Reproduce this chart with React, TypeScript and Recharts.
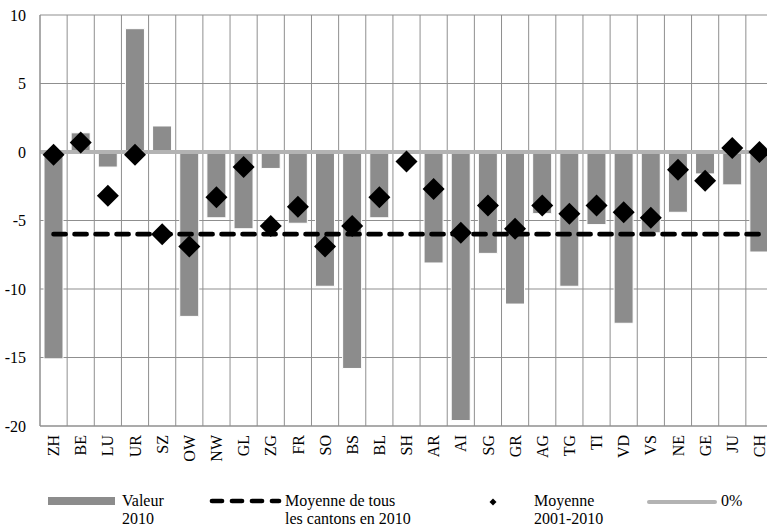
import { Bar, CartesianGrid, ComposedChart, Line, ReferenceLine, XAxis, YAxis } from 'recharts'

const CANTONS = [
  'ZH', 'BE', 'LU', 'UR', 'SZ', 'OW', 'NW', 'GL', 'ZG', 'FR', 'SO', 'BS', 'BL', 'SH',
  'AR', 'AI', 'SG', 'GR', 'AG', 'TG', 'TI', 'VD', 'VS', 'NE', 'GE', 'JU', 'CH',
]
const VALEUR_2010 = [
  -15.1, 1.4, -1.1, 9.0, 1.9, -12.0, -4.8, -5.6, -1.2, -5.2, -9.8, -15.8, -4.8, 0,
  -8.1, -19.6, -7.4, -11.1, -4.5, -9.8, -5.3, -12.5, -5.9, -4.4, -1.6, -2.4, -7.3,
]
const MOYENNE_2001_2010 = [
  -0.2, 0.7, -3.2, -0.2, -6.0, -6.9, -3.3, -1.1, -5.4, -4.0, -6.9, -5.4, -3.3, -0.7,
  -2.7, -5.9, -3.9, -5.6, -3.9, -4.5, -3.9, -4.4, -4.8, -1.3, -2.1, 0.3, 0.0,
]
const MOYENNE_CANTONS_2010 = -6.0
const ZERO_PCT = 0
const Y_TICKS = [-20, -15, -10, -5, 0, 5, 10]

const data = CANTONS.map((canton, i) => ({
  canton,
  valeur: VALEUR_2010[i],
  moyenne: MOYENNE_2001_2010[i],
  moyenneCantons: MOYENNE_CANTONS_2010,
}))

const FONT = 'Liberation Serif'
const FS = 16
const BAR_GRAY = '#8c8c8c'
const ZERO_GRAY = '#b3b3b3'
const GRID_GRAY = '#8f8f8f'

function CantonTick({ x, y, payload }: any) {
  return (
    <g transform={`translate(${x},${y + 9})`}>
      <text transform="rotate(-90)" textAnchor="end" dy="0.35em" fontSize={FS} fontFamily={FONT} fill="#000">
        {payload.value}
      </text>
    </g>
  )
}

function Diamond(props: any) {
  const { cx, cy, index } = props
  if (cx == null || cy == null) return <g key={`d-${index}`} />
  const r = 11
  return (
    <polygon
      key={`d-${index}`}
      points={`${cx},${cy - r} ${cx + r},${cy} ${cx},${cy + r} ${cx - r},${cy}`}
      fill="#000"
    />
  )
}

function LegendBlock() {
  const t = { fontSize: FS, fontFamily: FONT, fill: '#000' }
  return (
    <svg width={767} height={526} style={{ position: 'absolute', left: 0, top: 0, pointerEvents: 'none' }}>
      <rect x={48} y={497} width={67} height={8} fill={BAR_GRAY} />
      <text x={122} y={506} {...t}>Valeur</text>
      <text x={122} y={524} {...t}>2010</text>

      <line x1={212} y1={501} x2={279} y2={501} stroke="#000" strokeWidth={4.7} strokeDasharray="10 10" strokeLinecap="round" />
      <text x={285} y={506} {...t}>Moyenne de tous</text>
      <text x={285} y={524} {...t}>les cantons en 2010</text>

      <polygon points="493,498.5 496.5,502 493,505.5 489.5,502" fill="#000" />
      <text x={534} y={506} {...t}>Moyenne</text>
      <text x={534} y={524} {...t}>2001-2010</text>

      <line x1={649} y1={502} x2={715} y2={502} stroke={ZERO_GRAY} strokeWidth={4} strokeLinecap="round" />
      <text x={721} y={506} {...t}>0%</text>
    </svg>
  )
}

export default function App() {
  const n = CANTONS.length
  return (
    <div style={{ position: 'fixed', left: 0, top: 0, width: 767, height: 526, overflow: 'hidden', background: '#fff' }}>
      <ComposedChart
        width={790}
        height={526}
        data={data}
        margin={{ top: 15, right: 17, bottom: 60, left: 0 }}
        barSize={19}
      >
        <CartesianGrid
          stroke={GRID_GRAY}
          strokeWidth={1}
          verticalCoordinatesGenerator={({ offset }: any) =>
            Array.from({ length: n + 1 }, (_, i) => offset.left + (i * offset.width) / n)
          }
        />
        <XAxis
          dataKey="canton"
          interval={0}
          height={40}
          tickLine={false}
          tickSize={0}
          tickMargin={0}
          axisLine={{ stroke: GRID_GRAY }}
          tick={<CantonTick />}
        />
        <YAxis
          type="number"
          domain={[-20, 10]}
          ticks={Y_TICKS}
          width={40}
          tickLine={false}
          tickSize={0}
          tickMargin={14}
          axisLine={{ stroke: GRID_GRAY }}
          tick={{ fontSize: FS, fontFamily: FONT, fill: '#000' }}
        />
        <Bar dataKey="valeur" fill={BAR_GRAY} stroke="#fff" strokeWidth={1} isAnimationActive={false} />
        <ReferenceLine y={ZERO_PCT} stroke={ZERO_GRAY} strokeWidth={4} />
        <Line
          dataKey="moyenneCantons"
          stroke="#000"
          strokeWidth={4.7}
          strokeDasharray="12 9"
          strokeLinecap="round"
          dot={false}
          activeDot={false}
          isAnimationActive={false}
        />
        <Line
          dataKey="moyenne"
          stroke="none"
          dot={Diamond}
          activeDot={false}
          isAnimationActive={false}
        />
      </ComposedChart>
      <LegendBlock />
    </div>
  )
}
